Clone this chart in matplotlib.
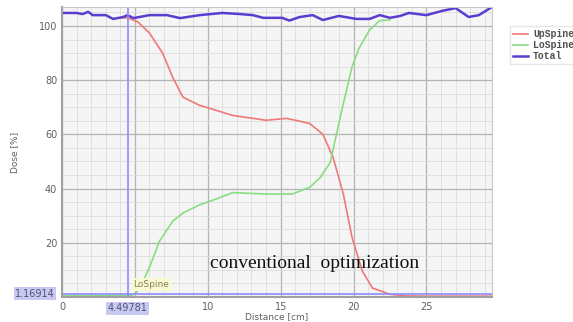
import numpy as np
import matplotlib
matplotlib.use("Agg")
import matplotlib.pyplot as plt
from matplotlib.ticker import MultipleLocator, FuncFormatter

# values (distance in cm, dose in %)
up_x = [4.0, 4.5, 5.2, 6.0, 6.9, 7.6, 8.3, 9.45, 10.5, 11.7, 13.0, 14.0, 15.4,
        16.2, 17.0, 17.9, 18.6, 19.3, 19.9, 20.6, 21.3, 22.5, 23.5, 25.0, 27.0, 29.5]
up_y = [103.0, 103.0, 101.5, 97.4, 90.0, 81.0, 73.7, 70.7, 69.0, 67.0, 66.0, 65.2, 65.9,
        65.0, 64.0, 60.0, 51.5, 38.0, 22.0, 9.6, 3.3, 1.0, 0.4, 0.3, 0.3, 0.3]

lo_x = [0.0, 2.0, 4.0, 4.8, 5.1, 5.5, 6.0, 6.7, 7.6, 8.3, 9.45, 10.5, 11.7, 14.0,
        15.8, 17.0, 17.7, 18.4, 19.2, 19.9, 20.4, 21.1, 21.8, 22.5]
lo_y = [0.4, 0.4, 0.5, 0.7, 1.5, 5.0, 11.0, 20.7, 28.0, 31.0, 34.0, 36.0, 38.5, 38.0,
        38.0, 40.5, 44.0, 49.6, 69.0, 85.0, 92.0, 98.5, 102.0, 102.2]

tot_x = [0.0, 1.0, 1.4, 1.8, 2.1, 3.0, 3.5, 4.2, 4.5, 4.9, 6.0, 7.2, 8.1, 9.45, 11.0,
         12.2, 13.1, 13.8, 15.1, 15.6, 16.3, 17.2, 17.9, 19.0, 20.2, 21.1, 21.8, 22.5,
         23.2, 23.8, 25.0, 26.1, 27.0, 27.9, 28.6, 29.5]
tot_y = [104.8, 104.8, 104.4, 105.2, 104.0, 104.0, 102.6, 103.3, 104.0, 102.9, 104.0,
         104.0, 102.9, 104.0, 104.8, 104.4, 104.0, 103.0, 103.0, 102.0, 103.3, 104.0,
         102.2, 103.7, 102.6, 102.6, 104.0, 103.0, 103.7, 104.8, 104.0, 105.6, 106.6,
         103.3, 104.0, 107.0]

cursor_x = 4.49781
cursor_y = 1.16914

fig = plt.figure(figsize=(5.73, 3.22), dpi=100)
ax = fig.add_axes([62 / 573, 25 / 322, 430 / 573, 290 / 322])
ax.set_facecolor("#f5f5f5")

ax.set_xlim(0, 29.5)
ax.set_ylim(0, 107)
ax.xaxis.set_major_locator(MultipleLocator(5))
ax.xaxis.set_minor_locator(MultipleLocator(1))
ax.yaxis.set_major_locator(MultipleLocator(20))
ax.yaxis.set_minor_locator(MultipleLocator(5))
# the cursor boxes hide these two tick labels in the original
ax.xaxis.set_major_formatter(FuncFormatter(lambda v, p: "" if v == 5 else f"{v:g}"))
ax.yaxis.set_major_formatter(FuncFormatter(lambda v, p: "" if v == 0 else f"{v:g}"))
ax.grid(which="major", color="#b4b4b4", lw=0.9)
ax.grid(which="minor", color="#dcdcdc", lw=0.6)
ax.set_axisbelow(True)
ax.tick_params(which="both", length=0, labelsize=7, colors="#606060")
for s in ax.spines.values():
    s.set_color("#c8c8c8")
ax.spines["left"].set_color("#a0a0a0")
ax.spines["left"].set_linewidth(1.5)
ax.spines["bottom"].set_color("#a0a0a0")
ax.spines["bottom"].set_linewidth(1.5)

ax.plot(up_x, up_y, color="#f07878", lw=1.2, label="UpSpine")
ax.plot(lo_x, lo_y, color="#88dd80", lw=1.2, label="LoSpine")
ax.plot(tot_x, tot_y, color="#5a3cd0", lw=1.8, label="Total")

ax.axvline(cursor_x, color="#8c8cff", lw=1.2)
ax.axhline(cursor_y, color="#8c8cff", lw=1.2)

ax.text(-0.5, cursor_y, f"{cursor_y:g}", ha="right", va="center", fontsize=7,
        color="#505080", bbox=dict(boxstyle="square,pad=0.15", fc="#c8c8f0", ec="none"),
        clip_on=False)
ax.text(cursor_x, -2.3, f"{cursor_x:g}", ha="center", va="top", fontsize=7,
        color="#505080", bbox=dict(boxstyle="square,pad=0.15", fc="#c8c8f0", ec="none"),
        clip_on=False)
ax.text(4.9, 4.5, "LoSpine", ha="left", va="center", fontsize=6.5, color="#808060",
        bbox=dict(boxstyle="square,pad=0.2", fc="#fafad2", ec="none"))

ax.text(17.3, 12.5, "conventional  optimization", ha="center", va="center",
        fontsize=14, family="Liberation Serif", color="#101010")

ax.set_xlabel("Distance [cm]", fontsize=6.5, color="#606060", labelpad=0)
ax.set_ylabel("Dose [%]", fontsize=6.5, color="#606060", labelpad=14)

ax.legend(loc="upper left", bbox_to_anchor=(1.03, 0.95), frameon=True, fancybox=False,
          edgecolor="#e0e0e0", prop={"family": "Liberation Mono", "size": 7,
                                     "weight": "bold"},
          handlelength=1.6, labelspacing=0.1, borderpad=0.3, handletextpad=0.5,
          labelcolor="#505050")

fig.savefig("out.png", dpi=100)
